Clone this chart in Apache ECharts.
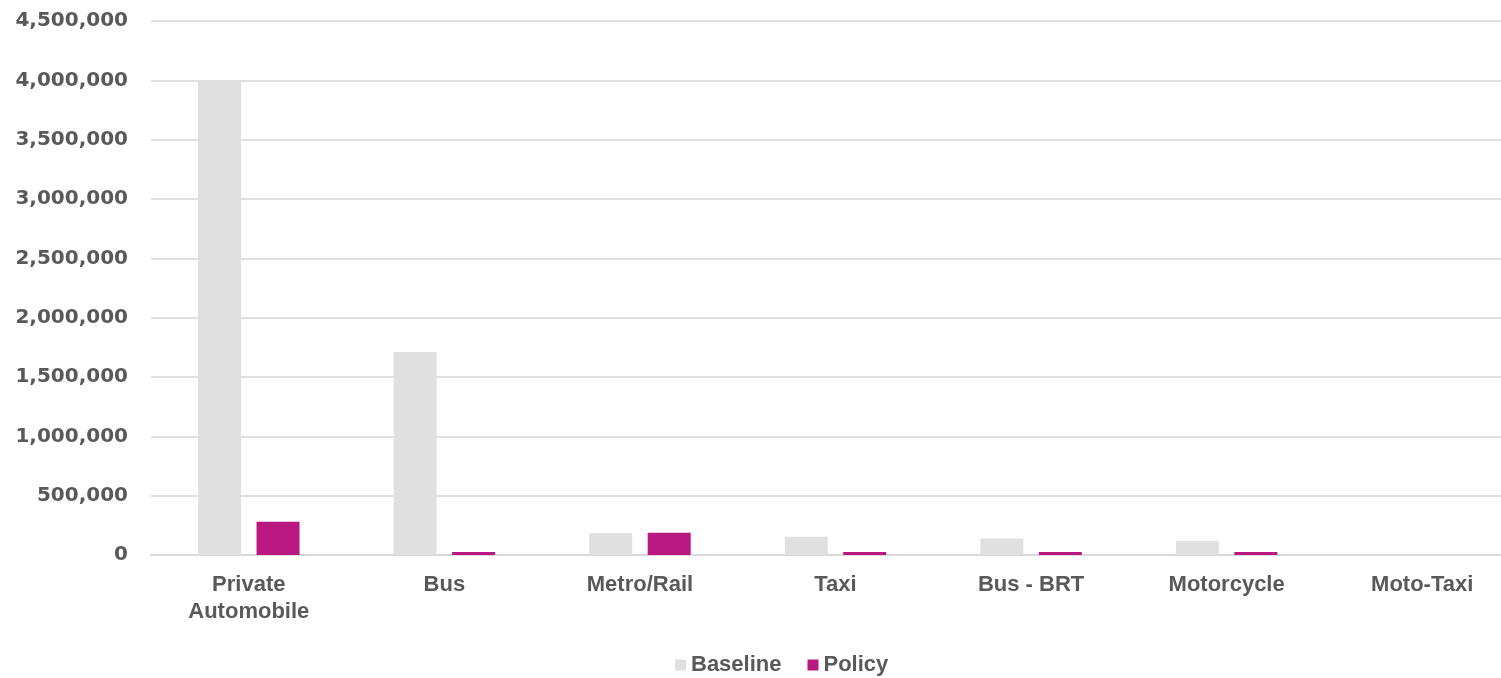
<!DOCTYPE html>
<html>
<head>
<meta charset="utf-8">
<script src="https://cdn.jsdelivr.net/npm/echarts@6/dist/echarts.min.js"></script>
<style>
html,body{margin:0;padding:0;background:#fff;}
#chart{width:1501px;height:678px;}
</style>
</head>
<body>
<div id="chart"></div>
<script>
const categories = ['Private\nAutomobile', 'Bus', 'Metro/Rail', 'Taxi', 'Bus - BRT', 'Motorcycle', 'Moto-Taxi'];
const baseline = [4000000, 1710000, 183000, 154000, 138000, 118000, 0];
const policy = [281000, 25000, 188000, 25000, 25000, 25000, 0];
const seriesNames = ['Baseline', 'Policy'];
const yTicks = { min: 0, max: 4500000, interval: 500000 };

const textColor = '#595959';
const yFont = "'DejaVu Sans', sans-serif";
const xFont = "'Liberation Sans', Arial, sans-serif";

const chart = echarts.init(document.getElementById('chart'), null, { renderer: 'canvas' });
chart.setOption({
  backgroundColor: '#ffffff',
  animation: false,
  grid: { left: 151, top: 21, width: 1369, bottom: 123, containLabel: false, outerBoundsMode: 'none' },
  legend: {
    data: seriesNames,
    left: 670, top: 649,
    itemWidth: 11, itemHeight: 11, itemGap: 26,
    icon: 'rect',
    textStyle: { color: textColor, fontFamily: xFont, fontWeight: 'bold', fontSize: 22 }
  },
  xAxis: {
    type: 'category',
    data: categories,
    axisLine: { show: true, lineStyle: { color: '#d9d9d9', width: 2 } },
    axisTick: { show: false },
    axisLabel: {
      color: textColor, fontFamily: xFont, fontWeight: 'bold', fontSize: 22,
      lineHeight: 27, margin: 16, interval: 0
    }
  },
  yAxis: {
    type: 'value',
    min: yTicks.min, max: yTicks.max, interval: yTicks.interval,
    axisLine: { show: false },
    axisTick: { show: false },
    splitLine: { lineStyle: { color: '#e0e0e0', width: 2 } },
    axisLabel: {
      color: textColor, fontFamily: yFont, fontWeight: 'bold', fontSize: 20, margin: 23,
      formatter: v => v.toLocaleString('en-US')
    }
  },
  series: [
    { name: seriesNames[0], type: 'bar', data: baseline, barWidth: 43, barGap: '36%',
      itemStyle: { color: '#e0e0e0' } },
    { name: seriesNames[1], type: 'bar', data: policy, barWidth: 43, barGap: '36%',
      itemStyle: { color: '#b8187f' } }
  ]
});
</script>
</body>
</html>
